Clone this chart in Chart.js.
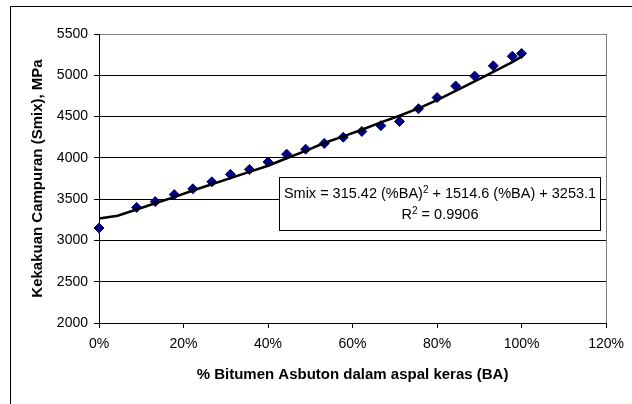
<!DOCTYPE html>
<html>
<head>
<meta charset="utf-8">
<script src="https://cdn.jsdelivr.net/npm/chart.js@4/dist/chart.umd.min.js"></script>
<style>
    html, body { margin: 0; padding: 0; background: #fff; }
    #wrap { position: relative; width: 632px; height: 404px; }
</style>
</head>
<body>
<div id="wrap"><canvas id="chart" width="632" height="404"></canvas></div>
<script>
// ── Data ──
const baShare = [0, 0.089, 0.133, 0.178, 0.222, 0.267, 0.311, 0.356, 0.4, 0.444, 0.489, 0.533,
                 0.578, 0.622, 0.667, 0.711, 0.756, 0.8, 0.844, 0.889, 0.933, 0.978, 1.0];
const smixValues = [3150, 3400, 3470, 3555, 3625, 3710, 3800, 3860, 3950, 4045, 4105, 4175,
                    4250, 4320, 4390, 4440, 4595, 4730, 4870, 4990, 5115, 5230, 5265];

// trend line as drawn in the picture
const trendShare = [0, 0.044, 0.089, 0.133, 0.178, 0.222, 0.267, 0.311, 0.356, 0.4, 0.444, 0.489,
                    0.533, 0.578, 0.622, 0.667, 0.711, 0.756, 0.8, 0.844, 0.889, 0.933, 0.978, 1.0];
const trendValues = [3265, 3300, 3375, 3450, 3525, 3605, 3680, 3755, 3830, 3905, 3995, 4085,
                     4180, 4260, 4340, 4430, 4510, 4600, 4700, 4810, 4925, 5040, 5160, 5225];

const yTicks = [2000, 2500, 3000, 3500, 4000, 4500, 5000, 5500];
const xTicks = [0, 0.2, 0.4, 0.6, 0.8, 1.0, 1.2];

const xTitle = '% Bitumen Asbuton dalam aspal keras (BA)';
const yTitle = 'Kekakuan Campuran (Smix), MPa';
const eqLine1 = ['Smix = 315.42 (%BA)', '2', ' + 1514.6 (%BA) + 3253.1'];
const eqLine2 = ['R', '2', ' = 0.9906'];

const FONT = "'Liberation Sans', Arial, sans-serif";

// ── Frame, plot border and trendline label ──
const decorPlugin = {
    id: 'decor',
    beforeDraw(chart) {
        const c = chart.ctx;
        c.save();
        c.fillStyle = '#fff';
        c.fillRect(0, 0, chart.width, chart.height);
        c.strokeStyle = '#000';
        c.lineWidth = 1;
        c.beginPath();
        c.moveTo(10.5, chart.height + 2);
        c.lineTo(10.5, 6.5);
        c.lineTo(chart.width + 2, 6.5);
        c.stroke();
        c.restore();
    },
    afterDatasetsDraw(chart) {
        const c = chart.ctx;
        const a = chart.chartArea;
        c.save();
        // right border of plot area
        c.strokeStyle = '#808080';
        c.lineWidth = 1;
        c.beginPath();
        c.moveTo(Math.round(a.right) + 0.5, a.top);
        c.lineTo(Math.round(a.right) + 0.5, a.bottom);
        c.stroke();

        // equation box
        c.fillStyle = '#fff';
        c.fillRect(280, 178, 320, 53);
        c.strokeStyle = '#000';
        c.strokeRect(279.5, 177.5, 321, 53);

        c.fillStyle = '#000';
        c.textBaseline = 'alphabetic';
        const drawSup = (parts, cx, baseY) => {
            c.font = `14.5px ${FONT}`;
            const w0 = c.measureText(parts[0]).width;
            const w2 = c.measureText(parts[2]).width;
            c.font = `10px ${FONT}`;
            const w1 = c.measureText(parts[1]).width;
            let x = cx - (w0 + w1 + w2) / 2;
            c.textAlign = 'left';
            c.font = `14.5px ${FONT}`;
            c.fillText(parts[0], x, baseY);
            x += w0;
            c.font = `10px ${FONT}`;
            c.fillText(parts[1], x, baseY - 5);
            x += w1;
            c.font = `14.5px ${FONT}`;
            c.fillText(parts[2], x, baseY);
        };
        drawSup(eqLine1, 440, 198);
        drawSup(eqLine2, 440, 219);
        c.restore();
    }
};

new Chart(document.getElementById('chart'), {
    type: 'scatter',
    data: {
        datasets: [
            {
                label: 'Smix',
                data: baShare.map((x, i) => ({ x, y: smixValues[i] })),
                pointStyle: 'rectRot',
                pointRadius: 5,
                backgroundColor: '#000080',
                borderColor: '#000080',
                borderWidth: 1,
                clip: false,
                order: 2
            },
            {
                label: 'Poly. (Smix)',
                data: trendShare.map((x, i) => ({ x, y: trendValues[i] })),
                showLine: true,
                pointRadius: 0,
                borderColor: '#000',
                borderWidth: 2.5,
                tension: 0,
                order: 1
            }
        ]
    },
    options: {
        responsive: false,
        animation: false,
        devicePixelRatio: 1,
        layout: { padding: { top: 34, right: 22, bottom: 0, left: 0 } },
        plugins: {
            legend: { display: false },
            tooltip: { enabled: false }
        },
        scales: {
            x: {
                type: 'linear',
                min: 0,
                max: 1.2,
                afterFit: s => { s.height = 81; },
                afterBuildTicks: s => { s.ticks = xTicks.map(v => ({ value: v })); },
                ticks: {
                    padding: 8,
                    color: '#000',
                    font: { size: 14, family: FONT },
                    callback: v => Math.round(v * 100) + '%'
                },
                grid: { drawOnChartArea: false, drawTicks: true, tickLength: 5, tickColor: '#000' },
                border: { color: '#000', width: 1 },
                title: {
                    display: true,
                    text: xTitle,
                    color: '#000',
                    font: { size: 15, weight: 'bold', family: FONT },
                    padding: { top: 0, bottom: 20 }
                }
            },
            y: {
                type: 'linear',
                min: 2000,
                max: 5500,
                afterFit: s => { s.width = 99; },
                afterBuildTicks: s => { s.ticks = yTicks.map(v => ({ value: v })); },
                ticks: {
                    padding: 6,
                    color: '#000',
                    font: { size: 14, family: FONT },
                    callback: v => String(v)
                },
                grid: {
                    color: ctx => (ctx.tick && ctx.tick.value === 5500 ? '#808080' : '#000'),
                    lineWidth: 1,
                    tickLength: 5,
                    tickColor: '#000'
                },
                border: { color: '#000', width: 1 },
                title: {
                    display: true,
                    text: yTitle,
                    color: '#000',
                    font: { size: 15, weight: 'bold', family: FONT },
                    padding: { top: 29, bottom: 0 }
                }
            }
        }
    },
    plugins: [decorPlugin]
});
</script>
</body>
</html>
